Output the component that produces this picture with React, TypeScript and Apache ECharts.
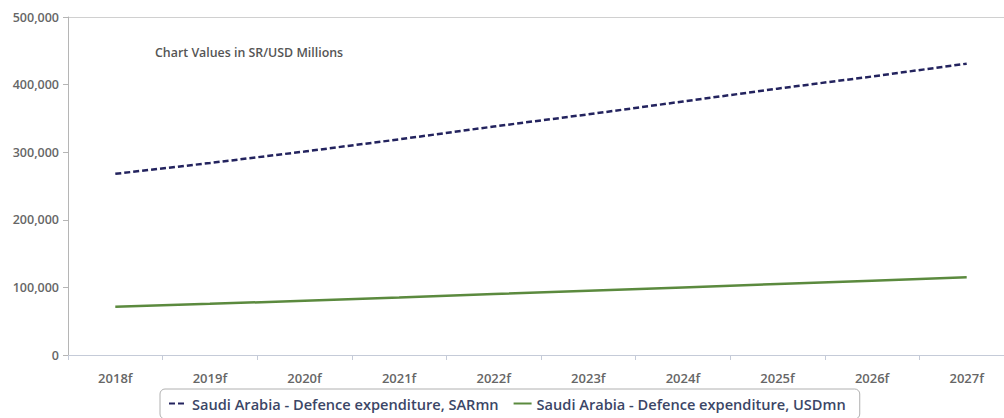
import React, { useEffect, useRef } from "react";
import * as echarts from "echarts";

const categories = ["2018f", "2019f", "2020f", "2021f", "2022f", "2023f", "2024f", "2025f", "2026f", "2027f"];
const sarValues = [268000, 284000, 301000, 319000, 338000, 356000, 375000, 394000, 412000, 431000];
const usdValues = [71500, 75700, 80300, 85000, 90100, 94900, 100000, 105100, 109900, 114900];
const sarName = "Saudi Arabia - Defence expenditure, SARmn";
const usdName = "Saudi Arabia - Defence expenditure, USDmn";
const noteText = "Chart Values in SR/USD Millions";

const FONT = "'Open Sans', 'Noto Sans', sans-serif";

export default function App() {
  const ref = useRef<HTMLDivElement>(null);
  useEffect(() => {
    if (!ref.current) return;
    const chart = echarts.init(ref.current, undefined, { renderer: "svg" });
    chart.setOption({
      animation: false,
      backgroundColor: "#ffffff",
      textStyle: { fontFamily: FONT },
      grid: {
        left: 68,
        right: 16,
        top: 17,
        bottom: 63,
      },
      graphic: [
        {
          type: "line",
          shape: { x1: 68, y1: 17.5, x2: 1030, y2: 17.5 },
          style: { stroke: "#d0d0d0", lineWidth: 1 },
          silent: true,
        },
        {
          type: "text",
          left: 155,
          top: 46,
          style: {
            text: noteText,
            fill: "#555555",
            font: `600 12.4px ${FONT}`,
          },
        },
      ],
      legend: {
        left: 160,
        top: 389,
        padding: [7, 14, 8, 8],
        itemGap: 14,
        itemWidth: 18,
        itemHeight: 10,
        borderColor: "#b0b0b0",
        borderWidth: 1,
        borderRadius: 5,
        itemStyle: { color: "transparent", borderWidth: 0, opacity: 0 },
        textStyle: { color: "#3b4666", fontSize: 14.6, fontWeight: 600, fontFamily: FONT },
        data: [sarName, usdName],
      },
      xAxis: {
        type: "category",
        data: categories,
        boundaryGap: true,
        axisLine: { lineStyle: { color: "#c5cbd8", width: 1 } },
        axisTick: { show: true, length: 5, lineStyle: { color: "#c5cbd8" } },
        axisLabel: { color: "#666666", fontSize: 13, fontWeight: 600, margin: 16, fontFamily: FONT },
        splitLine: { show: false },
      },
      yAxis: {
        type: "value",
        min: 0,
        max: 500000,
        interval: 100000,
        axisLine: { show: true, lineStyle: { color: "#b5b5b5", width: 1 } },
        axisTick: { show: true, length: 5, lineStyle: { color: "#b5b5b5" } },
        axisLabel: {
          color: "#666666",
          fontSize: 12.5,
          fontWeight: 600,
          margin: 9,
          fontFamily: FONT,
          formatter: (v: number) => v.toLocaleString("en-US"),
        },
        splitLine: { show: false },
      },
      series: [
        {
          name: sarName,
          type: "line",
          data: sarValues,
          symbol: "none",
          itemStyle: { color: "#23235e" },
          lineStyle: { color: "#23235e", width: 2.5, type: [6, 3] },
        },
        {
          name: usdName,
          type: "line",
          data: usdValues,
          symbol: "none",
          itemStyle: { color: "#5b8a3e" },
          lineStyle: { color: "#5b8a3e", width: 2.5 },
        },
      ],
    });
    return () => chart.dispose();
  }, []);
  return (
    <div style={{ position: "fixed", left: 0, top: 0, width: 1004, height: 418, overflow: "hidden", background: "#fff" }}>
      <div ref={ref} style={{ width: 1030, height: 418 }} />
    </div>
  );
}
